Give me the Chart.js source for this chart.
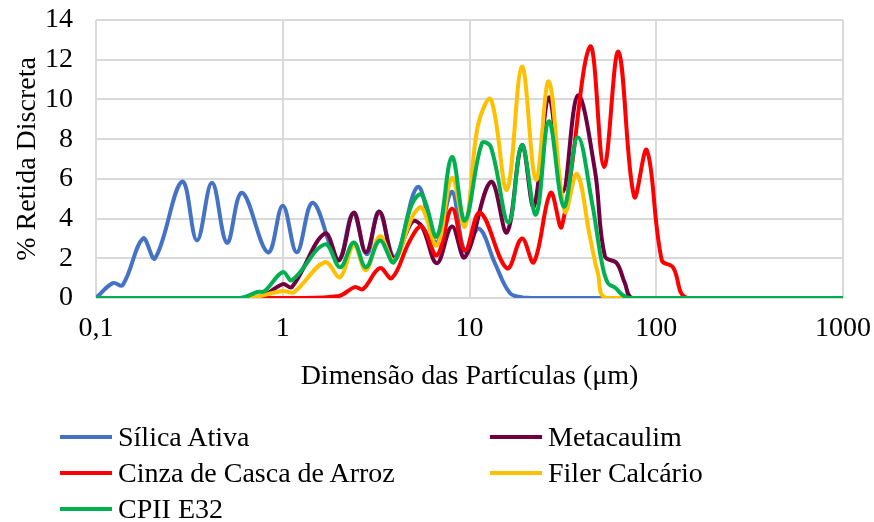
<!DOCTYPE html>
<html>
<head>
<meta charset="utf-8">
<script src="https://cdn.jsdelivr.net/npm/chart.js@4.4.1/dist/chart.umd.min.js"></script>
<style>
  html, body { margin: 0; padding: 0; background: #ffffff; }
  #wrap { position: relative; width: 874px; height: 522px; overflow: hidden; }
  #c { position: absolute; left: 0; top: 0; }
  .leg { position: absolute; height: 36px; display: flex; align-items: center;
         font-family: "Liberation Serif", "Times New Roman", serif; font-size: 28px; color: #000; white-space: nowrap; }
  .leg .sw { display: inline-block; width: 52px; height: 4px; margin-right: 6px; }
</style>
</head>
<body>
<div id="wrap">
  <canvas id="c" width="874" height="522"></canvas>
  <div id="legend"></div>
</div>
<script>
// ---- data ----
const tickValues = [0.1, 1, 10, 100, 1000];
const tickLabels = ['0,1', '1', '10', '100', '1000'];

const seriesNames = ['Sílica Ativa', 'Metacaulim', 'Cinza de Casca de Arroz', 'Filer Calcário', 'CPII E32'];

const silicaSize  = [0.1, 0.123, 0.139, 0.1785, 0.207, 0.289, 0.347, 0.418, 0.503, 0.605, 0.833, 1.0, 1.19, 1.45, 1.975, 2.375, 2.82, 3.27, 3.99, 5.29, 6.61, 8.05, 9.45, 11.23, 13.68, 16.45, 19.3, 25, 1000];
const silicaValue = [0, 0.75, 0.65, 3.0, 2.0, 5.86, 2.9, 5.8, 2.78, 5.3, 2.3, 4.65, 2.3, 4.8, 1.9, 4.25, 2.2, 4.35, 2.05, 5.6, 2.8, 5.35, 2.35, 3.5, 1.75, 0.25, 0.03, 0, 0];

const metaSize  = [0.1, 0.59, 0.78, 1.0, 1.12, 1.68, 2.0, 2.4, 2.79, 3.3, 3.94, 4.95, 5.56, 6.69, 8.05, 9.45, 13.02, 15.86, 19.08, 22.1, 26.6, 31.6, 38.0, 46.9, 53.1, 61.5, 67.9, 74.9, 1000];
const metaValue = [0, 0, 0.1, 0.7, 0.55, 3.25, 1.9, 4.3, 2.3, 4.35, 2.0, 3.85, 3.6, 1.75, 3.6, 2.05, 5.85, 3.3, 7.7, 4.6, 10.1, 5.35, 10.2, 6.45, 2.1, 1.75, 0.75, 0, 0];

const cinzaSize  = [0.1, 1.24, 2.0, 2.43, 2.69, 3.31, 3.84, 4.8, 5.56, 6.69, 8.05, 9.45, 11.4, 15.86, 19.08, 22.1, 27.2, 31.2, 44.1, 52.5, 62.7, 76.2, 89.0, 107.1, 122.7, 147.6, 1000];
const cinzaValue = [0, 0, 0.1, 0.55, 0.45, 1.5, 1.0, 2.9, 3.6, 2.15, 4.5, 2.4, 4.3, 1.5, 3.0, 1.8, 5.3, 3.6, 12.65, 6.6, 12.4, 5.1, 7.45, 1.9, 1.55, 0, 0];

const filerSize  = [0.1, 0.64, 1.0, 1.15, 1.68, 2.03, 2.4, 2.79, 3.31, 3.94, 4.95, 5.56, 6.69, 8.05, 9.45, 11.1, 13.02, 15.86, 19.08, 22.7, 26.6, 32.4, 37.6, 44.1, 48.7, 54.4, 1000];
const filerValue = [0, 0, 0.35, 0.3, 1.8, 1.05, 2.65, 1.4, 3.1, 1.9, 4.1, 4.55, 2.65, 6.05, 3.6, 8.7, 10.0, 5.45, 11.65, 5.95, 10.9, 4.35, 6.25, 3.1, 1.25, 0, 0];

const cpiiSize  = [0.1, 0.59, 0.73, 0.8, 1.0, 1.12, 1.68, 2.03, 2.4, 2.79, 3.31, 3.94, 4.9, 5.56, 6.69, 8.05, 9.45, 11.65, 13.02, 16.2, 19.08, 22.7, 26.6, 32.0, 38.0, 45.3, 51.2, 55.1, 60.5, 66.0, 72.3, 1000];
const cpiiValue = [0, 0, 0.3, 0.35, 1.3, 0.9, 2.7, 1.55, 2.8, 1.55, 2.9, 1.8, 4.7, 5.2, 3.1, 7.1, 3.9, 7.8, 7.6, 3.8, 7.7, 4.2, 8.9, 4.6, 8.1, 4.8, 1.75, 0.75, 0.5, 0.15, 0, 0];

// ---- styling / layout ----
const colors = ['#4472C4', '#70003F', '#FF0000', '#FFC000', '#00B050'];
const legendPos = [[60, 437], [490, 437], [60, 473], [490, 473], [60, 509]];
const FONT = { family: '"Liberation Serif", "Times New Roman", serif', size: 28 };

function pts(xs, ys) { return xs.map((x, i) => ({ x: x, y: ys[i] })); }
const sizes = [silicaSize, metaSize, cinzaSize, filerSize, cpiiSize];
const values = [silicaValue, metaValue, cinzaValue, filerValue, cpiiValue];

const datasets = seriesNames.map((name, i) => ({
  label: name,
  data: pts(sizes[i], values[i]),
  borderColor: colors[i],
  backgroundColor: colors[i],
  borderWidth: 4,
  pointRadius: 0,
  pointHoverRadius: 0,
  showLine: true,
  fill: false,
  tension: 0.38,
  borderCapStyle: 'round',
  borderJoinStyle: 'round',
  order: seriesNames.length - 1 - i
}));

const chart = new Chart(document.getElementById('c'), {
  type: 'scatter',
  data: { datasets: datasets },
  options: {
    responsive: false,
    animation: false,
    events: [],
    layout: { padding: { top: 20, right: 31, bottom: 0, left: 0 } },
    plugins: { legend: { display: false }, tooltip: { enabled: false } },
    scales: {
      x: {
        type: 'logarithmic',
        min: 0.1, max: 1000,
        afterBuildTicks: (s) => { s.ticks = tickValues.map(v => ({ value: v })); },
        afterFit: (s) => { s.height = 224; s.paddingLeft = 0; s.paddingRight = 0; },
        ticks: {
          autoSkip: false, maxRotation: 0, minRotation: 0,
          padding: 14, color: '#000', font: FONT,
          callback: (v) => { const i = tickValues.findIndex(t => Math.abs(t - v) < 1e-9); return i >= 0 ? tickLabels[i] : ''; }
        },
        grid: { color: '#D9D9D9', lineWidth: 2, drawTicks: false },
        border: { display: false },
        title: { display: true, text: 'Dimensão das Partículas (μm)', color: '#000', font: FONT, padding: { top: 0, bottom: 129 } }
      },
      y: {
        min: 0, max: 14,
        afterFit: (s) => { s.width = 96; s.paddingTop = 0; s.paddingBottom = 0; },
        ticks: { stepSize: 2, padding: 23, color: '#000', font: FONT },
        grid: { color: '#D9D9D9', lineWidth: 2, drawTicks: false },
        border: { display: false },
        title: { display: true, text: '% Retida Discreta', color: '#000', font: FONT, padding: { top: 11, bottom: 0 } }
      }
    }
  }
});

// HTML legend built from the series definitions
const legend = document.getElementById('legend');
seriesNames.forEach((name, i) => {
  const item = document.createElement('div');
  item.className = 'leg';
  item.style.left = legendPos[i][0] + 'px';
  item.style.top = (legendPos[i][1] - 18) + 'px';
  const sw = document.createElement('span');
  sw.className = 'sw';
  sw.style.background = colors[i];
  const tx = document.createElement('span');
  tx.textContent = name;
  item.appendChild(sw);
  item.appendChild(tx);
  legend.appendChild(item);
});
</script>
</body>
</html>
